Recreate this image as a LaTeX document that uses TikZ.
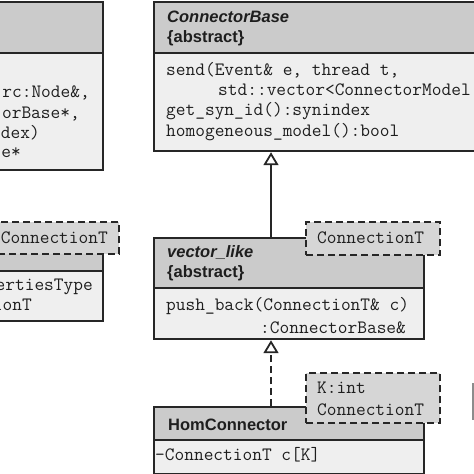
\documentclass[tikz,border=0pt]{standalone}
\usepackage{fontspec}
\setmainfont{Liberation Sans}
\usetikzlibrary{arrows.meta}
\definecolor{bord}{HTML}{262626}
\definecolor{hdrfill}{HTML}{CBCBCB}
\definecolor{bodyfill}{HTML}{EFEFEF}
\definecolor{tplfill}{HTML}{D6D6D6}
\definecolor{ink}{HTML}{1E1E1E}
\tikzset{
  hdr/.style={draw=bord, line width=2.2pt, fill=hdrfill, anchor=north west, inner sep=0pt},
  bodybox/.style={draw=bord, line width=2.2pt, fill=bodyfill, anchor=north west, inner sep=0pt},
  tpl/.style={draw=bord, line width=2pt, fill=tplfill, dash pattern=on 7pt off 4pt, anchor=north west, inner sep=0pt},
  mono/.style={font=\fontsize{18.86}{22}\selectfont\ttfamily, text=ink, inner sep=0pt, anchor=base west},
  cls/.style={font=\fontsize{16.5}{20}\selectfont\bfseries, text=ink, inner sep=0pt, anchor=base west},
  clsit/.style={font=\fontsize{16.5}{20}\selectfont\bfseries\itshape, text=ink, inner sep=0pt, anchor=base west},
  inh/.style={draw=bord, line width=2pt, -{Triangle[open, width=15pt, length=13pt, line width=1.8pt]}},
}
\begin{document}
\begin{tikzpicture}[x=1pt,y=-1pt]
\useasboundingbox[fill=white] (0,0) rectangle (474,474);
\clip (0,0) rectangle (474,474);

% left top box (cut off)
\node[hdr, minimum width=160pt, minimum height=51pt] (lth) at (-58,1) {};
\node[bodybox, minimum width=160pt, minimum height=117pt] (ltb) at (-58,52) {};
\node[mono, anchor=base east] (lt1) at (90,97) {rc:Node\&,};
\node[mono, anchor=base east] (lt2) at (80,118) {orBase*,};
\node[mono, anchor=base east] (lt3) at (40,138) {dex)};
\node[mono, anchor=base east] (lt4) at (21,157) {e*};

% left bottom box (cut off)
\node[hdr, minimum width=160pt, minimum height=33pt] (lbh) at (-58,237) {};
\node[bodybox, minimum width=160pt, minimum height=50pt] (lbb) at (-58,270) {};
\node[tpl, minimum width=176pt, minimum height=32pt] (lbt) at (-58,221) {};
\node[mono, anchor=base east] (lbt1) at (108,243) {ConnectionT};
\node[mono, anchor=base east] (lb1) at (93,290) {ertiesType};
\node[mono, anchor=base east] (lb2) at (32,310) {ionT};

% ConnectorBase
\node[hdr, minimum width=340pt, minimum height=51pt] (cbh) at (153,1) {};
\node[bodybox, minimum width=340pt, minimum height=98pt] (cbb) at (153,52) {};
\node[clsit] (cbn) at (167,22) {ConnectorBase};
\node[cls] (cba) at (167,42) {\{abstract\}};
\node[mono] (cb1) at (166,75) {send(Event\& e, thread t,};
\node[mono] (cb2) at (218,95) {std::vector\textless ConnectorModel};
\node[mono] (cb3) at (166,115) {get\_syn\_id():synindex};
\node[mono] (cb4) at (166,136) {homogeneous\_model():bool};

% vector_like
\node[hdr, minimum width=270pt, minimum height=50pt] (vlh) at (153,237) {};
\node[bodybox, minimum width=270pt, minimum height=51pt] (vlb) at (153,287) {};
\node[clsit] (vln) at (167,257) {vector\_like};
\node[cls] (vla) at (167,277) {\{abstract\}};
\node[mono] (vl1) at (166,310) {push\_back(ConnectionT\& c)};
\node[mono] (vl2) at (260,333) {:ConnectorBase\&};
\node[tpl, minimum width=134pt, minimum height=33pt] (vlt) at (305,221) {};
\node[mono] (vlt1) at (317,243) {ConnectionT};

% HomConnector
\node[hdr, minimum width=270pt, minimum height=33pt] (hch) at (153,406) {};
\node[bodybox, minimum width=270pt, minimum height=34pt] (hcb) at (153,439) {};
\node[cls] (hcn) at (168,430) {HomConnector};
\node[mono] (hc1) at (155,460) {-ConnectionT c[K]};
\node[tpl, minimum width=134pt, minimum height=50pt] (hct) at (305,372) {};
\node[mono] (hct1) at (317,393) {K:int};
\node[mono] (hct2) at (317,415) {ConnectionT};

% right edge fragment
\node[draw=none, fill=black!45, minimum width=8pt, minimum height=37pt, anchor=north west, inner sep=0pt] (rf) at (472,383) {};

% inheritance connectors
\draw[inh] ([xshift=118pt]vlh.north west) -- ([xshift=118pt]cbb.south west);
\draw[inh, dash pattern=on 7pt off 4pt] ([xshift=118pt]hch.north west) -- ([xshift=118pt]vlb.south west);
\end{tikzpicture}
\end{document}
